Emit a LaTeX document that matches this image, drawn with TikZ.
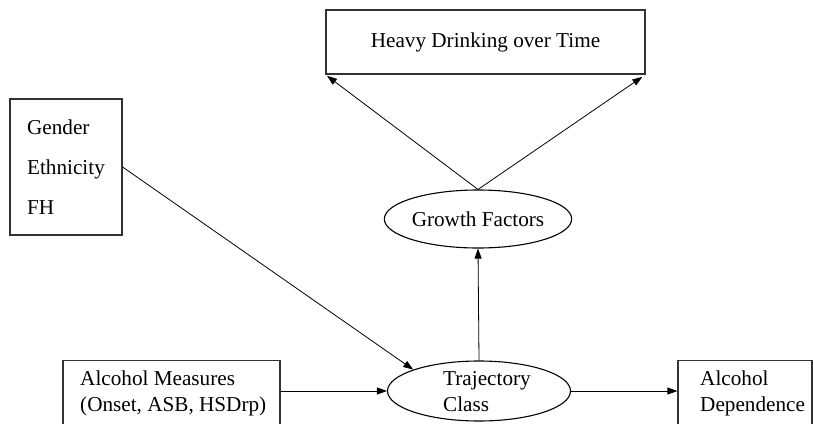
\documentclass[tikz,border=0pt]{standalone}
\usepackage{fontspec}
\setmainfont{Liberation Serif}
\usetikzlibrary{arrows.meta,shapes.geometric}
\begin{document}
\begin{tikzpicture}[x=1pt,y=-1pt,
  every node/.style={font=\fontsize{21.2}{26}\selectfont, inner sep=0pt},
  box/.style={draw=black!80, line width=1.2pt, rectangle},
  oval/.style={draw, ellipse, line width=1.1pt},
  txt/.style={align=left, anchor=west},
  arr/.style={-{Triangle[length=10pt,width=7pt]}, line width=0.8pt}]
\useasboundingbox (0,0) rectangle (813,423);
\clip (0,0) rectangle (813,423);

\node[box, minimum width=319pt, minimum height=64pt] (hd) at (485.5,42) {Heavy Drinking over Time};
\node[box, minimum width=112pt, minimum height=136pt, align=left,
      font=\fontsize{21.2}{40}\selectfont] (gen) at (66,167) {Gender\\Ethnicity\\FH};
\node[oval, minimum width=184pt, minimum height=58pt] (gf) at (478,219) {Growth Factors};
\node[oval, minimum width=183pt, minimum height=60pt] (trj) at (479,391) {};
\node[txt] (trjt) at (443,392) {Trajectory\\Class};
\node[box, minimum width=217pt, minimum height=90pt, anchor=north] (am) at (171.5,360) {};
\node[txt] (amt) at (80,393) {Alcohol Measures\\(Onset, ASB, HSDrp)};
\node[box, minimum width=134pt, minimum height=90pt, anchor=north] (ad) at (745,360) {};
\node[txt] (adt) at (700,393) {Alcohol\\Dependence};

\draw[arr, shorten >=2pt] (gf.north) -- (hd.south west);
\draw[arr, shorten >=4pt] (gf.north) -- (hd.south east);
\draw[arr] (gen.east) -- (trj.162);
\draw[arr] (trj.west -| am.east) -- (trj.west);
\draw[arr] (trj.east) -- (trj.east -| ad.west);
\draw[arr] (trj.north) -- (gf.south);
\end{tikzpicture}
\end{document}
